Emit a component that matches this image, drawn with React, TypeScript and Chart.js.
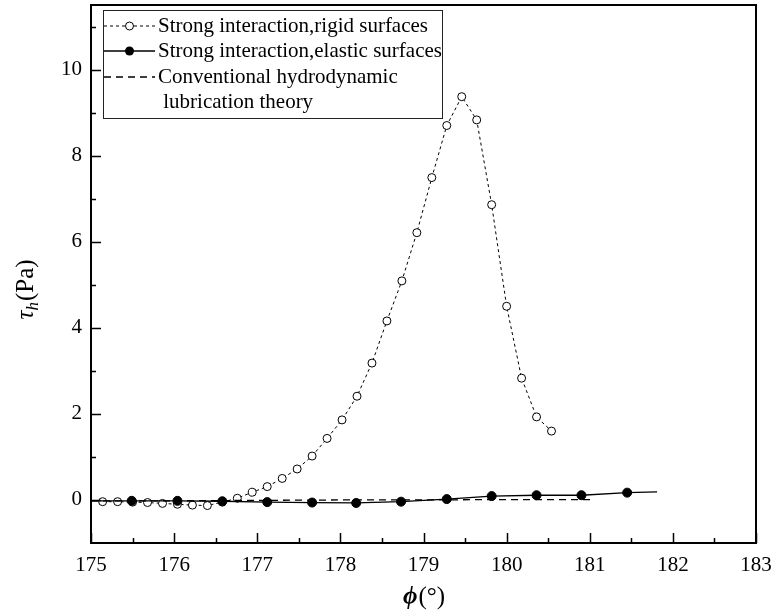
import React, { useEffect, useRef } from "react";
import { Chart, registerables } from "chart.js";

Chart.register(...registerables);

// ---- tick values ----
const xTickValues = [175, 176, 177, 178, 179, 180, 181, 182, 183];
const xMinorTickValues = [175.5, 176.5, 177.5, 178.5, 179.5, 180.5, 181.5, 182.5];
const yTickValues = [0, 2, 4, 6, 8, 10];
const yMinorTickValues = [1, 3, 5, 7, 9, 11];

// ---- series: strong interaction, rigid surfaces ----
const rigidPhi = [
  175.14, 175.32, 175.5, 175.68, 175.86, 176.04, 176.22, 176.4, 176.58, 176.76,
  176.94, 177.12, 177.3, 177.48, 177.66, 177.84, 178.02, 178.2, 178.38, 178.56,
  178.74, 178.92, 179.1, 179.28, 179.46, 179.64, 179.82, 180.0, 180.18, 180.36, 180.54,
];
const rigidTau = [
  -0.04, -0.04, -0.05, -0.06, -0.08, -0.1, -0.12, -0.13, -0.05, 0.04,
  0.18, 0.31, 0.5, 0.72, 1.02, 1.43, 1.86, 2.41, 3.18, 4.16,
  5.09, 6.21, 7.49, 8.7, 9.37, 8.83, 6.86, 4.5, 2.83, 1.93, 1.6,
];

// ---- series: strong interaction, elastic surfaces ----
const elasticPhi = [
  175.0, 175.49, 176.04, 176.58, 177.12, 177.66, 178.19, 178.73, 179.28, 179.82,
  180.36, 180.9, 181.45, 181.81,
];
const elasticTau = [
  -0.02, -0.02, -0.02, -0.03, -0.05, -0.06, -0.07, -0.04, 0.02, 0.09,
  0.11, 0.11, 0.17, 0.19,
];

// ---- series: conventional hydrodynamic lubrication theory ----
const convPhi = [175.0, 176.0, 177.0, 178.0, 179.0, 180.0, 181.05];
const convTau = [-0.02, -0.02, -0.01, 0.0, 0.0, 0.01, 0.01];

const legendLabels = [
  ["Strong interaction,rigid surfaces"],
  ["Strong interaction,elastic surfaces"],
  ["Conventional hydrodynamic", " lubrication theory"],
];

const SERIF = '"Liberation Serif", "Times New Roman", serif';

const zip = (xs: number[], ys: number[]) => xs.map((x, i) => ({ x, y: ys[i] }));

const decorPlugin = {
  id: "decor",
  afterDraw(chart: any) {
    const { ctx, chartArea: a, scales } = chart;
    const xs = scales.x;
    const ys = scales.y;
    ctx.save();
    ctx.strokeStyle = "#000";
    ctx.fillStyle = "#000";

    // inward ticks
    ctx.lineWidth = 1.5;
    ctx.beginPath();
    xTickValues.forEach((v) => {
      const p = Math.round(xs.getPixelForValue(v)) + 0.5;
      ctx.moveTo(p, a.bottom);
      ctx.lineTo(p, a.bottom - 10);
    });
    xMinorTickValues.forEach((v) => {
      const p = Math.round(xs.getPixelForValue(v)) + 0.5;
      ctx.moveTo(p, a.bottom);
      ctx.lineTo(p, a.bottom - 5);
    });
    yTickValues.forEach((v) => {
      const p = Math.round(ys.getPixelForValue(v)) + 0.5;
      ctx.moveTo(a.left, p);
      ctx.lineTo(a.left + 10, p);
    });
    yMinorTickValues.forEach((v) => {
      const p = Math.round(ys.getPixelForValue(v)) + 0.5;
      ctx.moveTo(a.left, p);
      ctx.lineTo(a.left + 5, p);
    });
    ctx.stroke();

    // frame
    ctx.lineWidth = 2;
    ctx.strokeRect(a.left, a.top, a.right - a.left, a.bottom - a.top);

    // legend
    const lx = a.left + 12;
    const ly = a.top + 5;
    const lw = 339;
    const lh = 108;
    ctx.fillStyle = "#fff";
    ctx.fillRect(lx, ly, lw, lh);
    ctx.lineWidth = 1;
    ctx.strokeStyle = "#222";
    ctx.strokeRect(lx + 0.5, ly + 0.5, lw, lh);

    ctx.font = `21px ${SERIF}`;
    ctx.fillStyle = "#000";
    ctx.textBaseline = "alphabetic";
    ctx.textAlign = "left";
    const baselines = [ly + 22, ly + 47, ly + 73, ly + 98];
    const sx0 = lx + 1;
    const sx1 = lx + 52;
    const mx = (sx0 + sx1) / 2;
    const tx = lx + 55;

    // row 1: dotted + open circle
    let cy = baselines[0] - 6;
    ctx.strokeStyle = "#000";
    ctx.lineWidth = 1;
    ctx.setLineDash([3, 3]);
    ctx.beginPath();
    ctx.moveTo(sx0, cy);
    ctx.lineTo(sx1, cy);
    ctx.stroke();
    ctx.setLineDash([]);
    ctx.beginPath();
    ctx.arc(mx, cy, 4, 0, Math.PI * 2);
    ctx.fillStyle = "#fff";
    ctx.fill();
    ctx.stroke();
    ctx.fillStyle = "#000";
    ctx.fillText(legendLabels[0][0], tx, baselines[0]);

    // row 2: solid + filled circle
    cy = baselines[1] - 6;
    ctx.lineWidth = 1.3;
    ctx.beginPath();
    ctx.moveTo(sx0, cy);
    ctx.lineTo(sx1, cy);
    ctx.stroke();
    ctx.beginPath();
    ctx.arc(mx, cy, 4.5, 0, Math.PI * 2);
    ctx.fill();
    ctx.fillText(legendLabels[1][0], tx, baselines[1]);

    // row 3: dashed
    cy = baselines[2] - 6;
    ctx.lineWidth = 1.3;
    ctx.setLineDash([7, 5]);
    ctx.beginPath();
    ctx.moveTo(sx0, cy);
    ctx.lineTo(sx1, cy);
    ctx.stroke();
    ctx.setLineDash([]);
    ctx.fillText(legendLabels[2][0], tx, baselines[2]);
    ctx.fillText(legendLabels[2][1], tx, baselines[3]);

    // x axis title: phi(°)
    const xc = (a.left + a.right) / 2;
    const xb = 604;
    ctx.font = `bold italic 25px ${SERIF}`;
    const w1 = ctx.measureText("\u03D5").width;
    ctx.font = `25px ${SERIF}`;
    const w2 = ctx.measureText("(\u00B0)").width;
    const x0 = xc - (w1 + w2) / 2;
    ctx.font = `bold italic 25px ${SERIF}`;
    ctx.fillText("\u03D5", x0, xb);
    ctx.font = `25px ${SERIF}`;
    ctx.fillText("(\u00B0)", x0 + w1 + 1, xb);

    // y axis title: tau_h(Pa)
    ctx.save();
    ctx.translate(33, 290);
    ctx.rotate(-Math.PI / 2);
    ctx.font = `italic 25px ${SERIF}`;
    const t1 = ctx.measureText("\u03C4").width;
    ctx.font = `italic 17px ${SERIF}`;
    const t2 = ctx.measureText("h").width;
    ctx.font = `25px ${SERIF}`;
    const t3 = ctx.measureText("(Pa)").width;
    const p0 = -(t1 + t2 + t3) / 2;
    ctx.font = `italic 25px ${SERIF}`;
    ctx.fillText("\u03C4", p0, 0);
    ctx.font = `italic 17px ${SERIF}`;
    ctx.fillText("h", p0 + t1, 5);
    ctx.font = `25px ${SERIF}`;
    ctx.fillText("(Pa)", p0 + t1 + t2 + 1, 0);
    ctx.restore();

    ctx.restore();
  },
};

export default function App() {
  const canvasRef = useRef<HTMLCanvasElement | null>(null);

  useEffect(() => {
    const canvas = canvasRef.current;
    if (!canvas) return;
    const tickFont = { family: SERIF, size: 21 };
    const zeroPad = (s: any) => {
      s.paddingTop = 0;
      s.paddingBottom = 0;
      s.paddingLeft = 0;
      s.paddingRight = 0;
    };
    const chart = new Chart(canvas, {
      type: "line",
      data: {
        datasets: [
          {
            label: "Strong interaction,elastic surfaces",
            data: zip(elasticPhi, elasticTau),
            borderColor: "#000",
            backgroundColor: "#000",
            borderWidth: 1.3,
            pointRadius: (c: any) =>
              c.dataIndex === 0 || c.dataIndex === elasticPhi.length - 1 ? 0 : 4.5,
            pointBackgroundColor: "#000",
            pointBorderColor: "#000",
            pointBorderWidth: 1,
            tension: 0,
            order: 0,
          },
          {
            label: "Conventional hydrodynamic lubrication theory",
            data: zip(convPhi, convTau),
            borderColor: "#000",
            borderWidth: 1.3,
            borderDash: [7, 5],
            pointRadius: 0,
            tension: 0,
            order: 1,
          },
          {
            label: "Strong interaction,rigid surfaces",
            data: zip(rigidPhi, rigidTau),
            borderColor: "#000",
            borderWidth: 1,
            borderDash: [3, 3],
            pointRadius: 4,
            pointBackgroundColor: "#fff",
            pointBorderColor: "#000",
            pointBorderWidth: 1,
            tension: 0,
            order: 2,
          },
        ],
      },
      options: {
        animation: false,
        responsive: false,
        events: [],
        layout: { padding: { top: 5, right: 19, left: 0, bottom: 0 } },
        plugins: {
          legend: { display: false },
          tooltip: { enabled: false },
        },
        scales: {
          x: {
            type: "linear",
            min: 175,
            max: 183,
            grid: { display: false, drawTicks: false },
            border: { display: false },
            ticks: {
              font: tickFont,
              color: "#000",
              padding: 10,
              maxRotation: 0,
              autoSkip: false,
              callback: (v: any) => String(v),
            },
            afterBuildTicks: (s: any) => {
              s.ticks = xTickValues.map((v) => ({ value: v }));
            },
            afterFit: (s: any) => {
              s.height = 71;
              zeroPad(s);
            },
          },
          y: {
            type: "linear",
            min: -1,
            max: 11.5,
            grid: { display: false, drawTicks: false },
            border: { display: false },
            ticks: {
              font: tickFont,
              color: "#000",
              padding: 9,
              autoSkip: false,
              callback: (v: any) => String(v),
            },
            afterBuildTicks: (s: any) => {
              s.ticks = yTickValues.map((v) => ({ value: v }));
            },
            afterFit: (s: any) => {
              s.width = 91;
              zeroPad(s);
            },
          },
        },
      },
      plugins: [decorPlugin],
    } as any);
    return () => chart.destroy();
  }, []);

  return (
    <div style={{ position: "absolute", left: 0, top: 0, width: 775, height: 614, background: "#fff" }}>
      <canvas ref={canvasRef} width={775} height={614} style={{ width: 775, height: 614, display: "block" }} />
    </div>
  );
}
